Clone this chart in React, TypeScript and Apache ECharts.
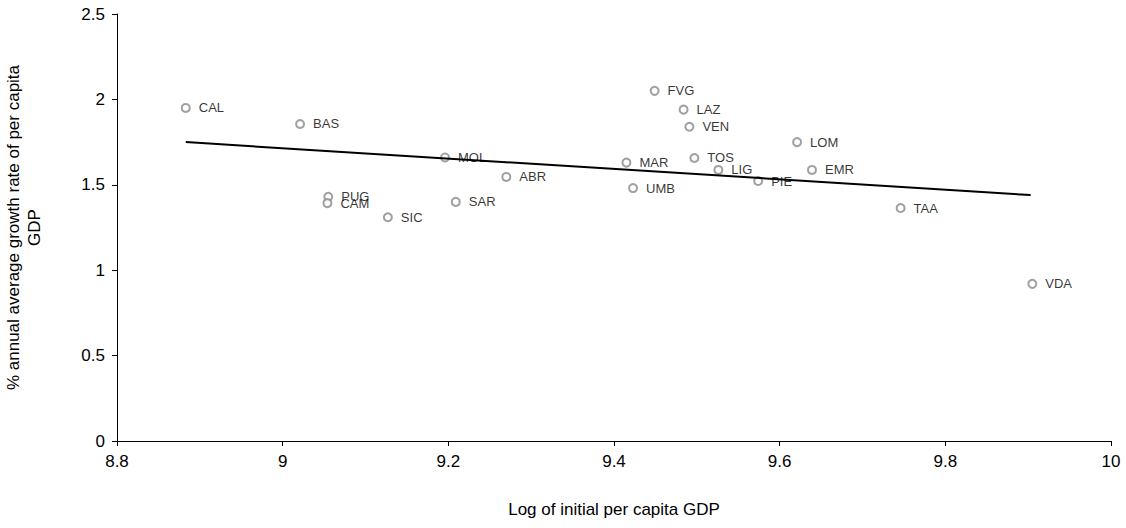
import { useEffect, useRef } from 'react';
import * as echarts from 'echarts';

const regions = ['CAL', 'BAS', 'FVG', 'LAZ', 'VEN', 'LOM', 'MOL', 'MAR', 'TOS', 'LIG', 'EMR', 'ABR', 'PIE', 'UMB', 'PUG', 'CAM', 'SAR', 'SIC', 'TAA', 'VDA'];
const logGdp = [8.883, 9.021, 9.449, 9.484, 9.491, 9.621, 9.196, 9.415, 9.497, 9.526, 9.639, 9.27, 9.574, 9.423, 9.055, 9.054, 9.209, 9.127, 9.746, 9.905];
const growth = [1.95, 1.856, 2.05, 1.94, 1.84, 1.75, 1.66, 1.63, 1.657, 1.587, 1.587, 1.546, 1.522, 1.481, 1.43, 1.393, 1.4, 1.31, 1.364, 0.92];
const trendX = [8.883, 9.903];
const trendY = [1.75, 1.44];

export default function App() {
  const ref = useRef<HTMLDivElement>(null);

  useEffect(() => {
    if (!ref.current) return;
    document.body.style.margin = '0';
    const chart = echarts.init(ref.current, null, { renderer: 'svg' });
    const font = 'Arial, "Liberation Sans", sans-serif';
    chart.setOption({
      animation: false,
      textStyle: { fontFamily: font },
      grid: { left: 117, right: 15, top: 14, bottom: 87, outerBoundsMode: 'none', containLabel: false },
      xAxis: {
        type: 'value', min: 8.8, max: 10, interval: 0.2,
        name: 'Log of initial per capita GDP', nameLocation: 'middle', nameGap: 60,
        nameTextStyle: { fontSize: 17, color: '#000' },
        axisLine: { lineStyle: { color: '#000' } },
        axisTick: { show: true, lineStyle: { color: '#000' } },
        axisLabel: { color: '#000', fontSize: 17, margin: 12, formatter: (v: number) => String(+v.toFixed(1)) },
        splitLine: { show: false },
      },
      yAxis: {
        type: 'value', min: 0, max: 2.5, interval: 0.5,
        name: '% annual average growth rate of per capita\nGDP', nameLocation: 'middle', nameGap: 72,
        nameTextStyle: { fontSize: 17, color: '#000', lineHeight: 21 },
        axisLine: { show: true, lineStyle: { color: '#000' } },
        axisTick: { show: true, lineStyle: { color: '#000' } },
        axisLabel: { color: '#000', fontSize: 17, margin: 12 },
        splitLine: { show: false },
      },
      series: [
        {
          type: 'line',
          data: trendX.map((x, i) => [x, trendY[i]]),
          symbol: 'none',
          lineStyle: { color: '#000', width: 2 },
        },
        {
          type: 'scatter',
          data: logGdp.map((x, i) => ({ value: [x, growth[i]], name: regions[i] })),
          symbol: 'circle',
          symbolSize: 8,
          itemStyle: { color: '#fff', borderColor: '#888', borderWidth: 2 },
          label: {
            show: true, position: 'right', distance: 8,
            formatter: (p: any) => p.name, color: '#000', fontSize: 13, fontFamily: font,
          },
        },
      ],
    });
    return () => chart.dispose();
  }, []);

  return <div ref={ref} style={{ width: 1126, height: 528 }} />;
}
